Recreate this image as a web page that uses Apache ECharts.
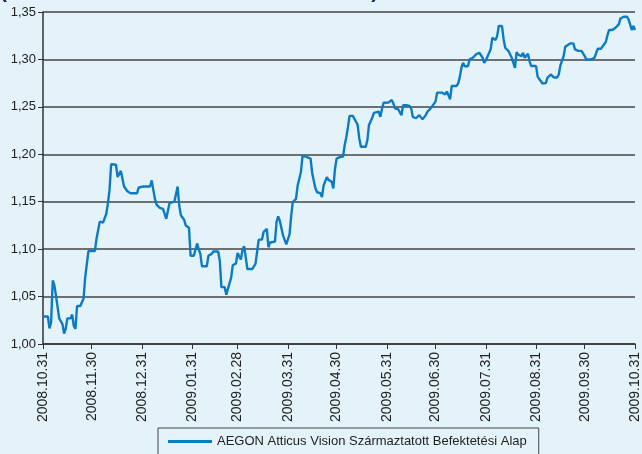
<!DOCTYPE html>
<html>
<head>
<meta charset="utf-8">
<script src="https://cdn.jsdelivr.net/npm/echarts@6/dist/echarts.min.js"></script>
<style>
html,body{margin:0;padding:0;background:#E4F3FA;}
#c{width:642px;height:454px;}
</style>
</head>
<body>
<div id="c"></div>
<script>
const seriesName = 'AEGON Atticus Vision Származtatott Befektetési Alap';
const tickDates = ['2008-10-31','2008-11-30','2008-12-31','2009-01-31','2009-02-28','2009-03-31','2009-04-30','2009-05-31','2009-06-30','2009-07-31','2009-08-31','2009-09-30','2009-10-31'];
const yTicks = [1.00,1.05,1.10,1.15,1.20,1.25,1.30,1.35];
const dates = [
'2008-10-31','2008-11-03','2008-11-04','2008-11-05','2008-11-06','2008-11-07','2008-11-08','2008-11-09','2008-11-10','2008-11-12',
'2008-11-13','2008-11-14','2008-11-15','2008-11-17','2008-11-18','2008-11-19','2008-11-20','2008-11-21','2008-11-23','2008-11-25',
'2008-11-26','2008-11-27','2008-11-28','2008-12-02','2008-12-03','2008-12-05','2008-12-07','2008-12-09','2008-12-10','2008-12-11',
'2008-12-12','2008-12-13','2008-12-15','2008-12-16','2008-12-17','2008-12-18','2008-12-20','2008-12-21','2008-12-22','2008-12-24',
'2008-12-28','2008-12-29','2008-12-30','2009-01-01','2009-01-05','2009-01-06','2009-01-07','2009-01-08','2009-01-09','2009-01-11',
'2009-01-13','2009-01-15','2009-01-17','2009-01-20','2009-01-21','2009-01-22','2009-01-23','2009-01-24','2009-01-26','2009-01-27',
'2009-01-29','2009-01-30','2009-02-01','2009-02-03','2009-02-04','2009-02-05','2009-02-06','2009-02-09','2009-02-10','2009-02-12',
'2009-02-13','2009-02-16','2009-02-17','2009-02-18','2009-02-19','2009-02-20','2009-02-21','2009-02-22','2009-02-24','2009-02-25',
'2009-02-27','2009-02-28','2009-03-01','2009-03-02','2009-03-03','2009-03-04','2009-03-05','2009-03-06','2009-03-09','2009-03-11',
'2009-03-12','2009-03-13','2009-03-15','2009-03-16','2009-03-18','2009-03-19','2009-03-20','2009-03-23','2009-03-24','2009-03-25',
'2009-03-26','2009-03-28','2009-03-29','2009-03-30','2009-04-01','2009-04-02','2009-04-03','2009-04-05','2009-04-06','2009-04-08',
'2009-04-09','2009-04-11','2009-04-14','2009-04-15','2009-04-16','2009-04-17','2009-04-18','2009-04-19','2009-04-20','2009-04-21',
'2009-04-22','2009-04-24','2009-04-25','2009-04-27','2009-04-28','2009-04-29','2009-04-30','2009-05-02','2009-05-04','2009-05-05',
'2009-05-06','2009-05-07','2009-05-08','2009-05-10','2009-05-12','2009-05-13','2009-05-14','2009-05-15','2009-05-18','2009-05-19',
'2009-05-20','2009-05-22','2009-05-23','2009-05-24','2009-05-26','2009-05-27','2009-05-28','2009-05-29','2009-06-01','2009-06-03',
'2009-06-04','2009-06-05','2009-06-06','2009-06-07','2009-06-08','2009-06-09','2009-06-10','2009-06-12','2009-06-14','2009-06-15',
'2009-06-16','2009-06-18','2009-06-20','2009-06-21','2009-06-22','2009-06-24','2009-06-25','2009-06-27','2009-06-28','2009-06-30',
'2009-07-01','2009-07-04','2009-07-05','2009-07-06','2009-07-07','2009-07-09','2009-07-10','2009-07-11','2009-07-13','2009-07-14',
'2009-07-15','2009-07-16','2009-07-17','2009-07-18','2009-07-20','2009-07-21','2009-07-23','2009-07-25','2009-07-26','2009-07-27',
'2009-07-29','2009-07-30','2009-07-31','2009-08-01','2009-08-02','2009-08-03','2009-08-04','2009-08-05','2009-08-06','2009-08-07',
'2009-08-08','2009-08-10','2009-08-11','2009-08-12','2009-08-13','2009-08-14','2009-08-15','2009-08-16','2009-08-17','2009-08-18',
'2009-08-19','2009-08-20','2009-08-22','2009-08-23','2009-08-24','2009-08-25','2009-08-26','2009-08-27','2009-08-28','2009-08-31',
'2009-09-01','2009-09-03','2009-09-04','2009-09-06','2009-09-07','2009-09-09','2009-09-10','2009-09-11','2009-09-13','2009-09-14',
'2009-09-15','2009-09-17','2009-09-18','2009-09-19','2009-09-21','2009-09-23','2009-09-24','2009-09-26','2009-09-28','2009-09-30',
'2009-10-01','2009-10-02','2009-10-04','2009-10-05','2009-10-06','2009-10-08','2009-10-10','2009-10-11','2009-10-13','2009-10-14',
'2009-10-15','2009-10-17','2009-10-19','2009-10-21','2009-10-22','2009-10-24','2009-10-26','2009-10-27','2009-10-28','2009-10-29',
'2009-10-30','2009-10-31'
];
const values = [
1.029,1.029,1.0165,1.023,1.067,1.062,1.051,1.050,1.027,1.021,
1.011,1.016,1.027,1.027,1.031,1.019,1.016,1.040,1.040,1.048,
1.070,1.072,1.098,1.098,1.111,1.129,1.128,1.137,1.148,1.162,
1.1895,1.189,1.189,1.176,1.176,1.1825,1.166,1.1645,1.161,1.159,
1.159,1.165,1.163,1.166,1.166,1.1725,1.171,1.153,1.147,1.1435,
1.1425,1.132,1.1485,1.150,1.152,1.166,1.146,1.1357,1.131,1.125,
1.1226,1.093,1.093,1.106,1.100,1.095,1.082,1.082,1.093,1.095,
1.0975,1.0975,1.088,1.060,1.058,1.060,1.052,1.052,1.070,1.083,
1.085,1.096,1.097,1.089,1.0995,1.103,1.0915,1.079,1.079,1.0845,
1.097,1.110,1.110,1.118,1.1215,1.102,1.107,1.108,1.1285,1.1345,
1.130,1.1145,1.113,1.105,1.1155,1.1345,1.1497,1.153,1.167,1.181,
1.198,1.1975,1.1955,1.1797,1.180,1.164,1.160,1.161,1.159,1.155,
1.167,1.176,1.173,1.171,1.164,1.184,1.1955,1.197,1.1975,1.2096,
1.218,1.2283,1.2405,1.2405,1.2343,1.231,1.2167,1.208,1.208,1.215,
1.231,1.2385,1.2437,1.2455,1.245,1.2395,1.2477,1.2543,1.2545,1.2572,
1.2537,1.2484,1.248,1.2475,1.249,1.2411,1.2517,1.2517,1.251,1.2484,
1.2395,1.238,1.2413,1.240,1.2368,1.2413,1.2448,1.2484,1.2502,1.2555,
1.265,1.265,1.2643,1.2632,1.2661,1.258,1.272,1.272,1.272,1.2748,
1.2816,1.2915,1.2964,1.2928,1.2928,1.300,1.3018,1.3053,1.3053,1.307,
1.302,1.2964,1.2992,1.3028,1.3028,1.3106,1.3228,1.324,1.3204,1.3246,
1.3352,1.3352,1.3211,1.3123,1.3134,1.3088,1.307,1.3017,1.3035,1.2911,
1.3077,1.305,1.3035,1.307,1.3017,1.3035,1.306,1.298,1.293,1.293,
1.2816,1.277,1.2746,1.275,1.2806,1.2841,1.2858,1.281,1.281,1.2841,
1.2937,1.3035,1.3133,1.3148,1.3169,1.3169,1.3106,1.309,1.309,1.3035,
1.300,1.2982,1.300,1.300,1.3018,1.3112,1.3112,1.3123,1.3183,1.3254,
1.331,1.331,1.3334,1.337,1.343,1.345,1.345,1.3423,1.337,1.331,
1.3352,1.331
];

function toLocal(s){const p=s.split('-').map(Number);return new Date(p[0],p[1]-1,p[2]).getTime();}
const tickTimes = tickDates.map(toLocal);
const data = dates.map((d,i)=>[toLocal(d), values[i]]);

const chart = echarts.init(document.getElementById('c'), null, {renderer:'canvas'});
const axisFont = 'Liberation Sans, Arial, sans-serif';
chart.setOption({
  backgroundColor:'#E4F3FA',
  animation:false,
  graphic:[{
    type:'text', left:0, top:-18,
    style:{text:'(2008. október 31. – 2009. október 31.)', font:'bold 21px Liberation Sans, Arial, sans-serif', fill:'#1B2B63'}
  }],
  grid:{left:43, right:1, top:12, bottom:110, containLabel:false},
  xAxis:{
    type:'value',
    min:tickTimes[0], max:tickTimes[tickTimes.length-1],
    axisLine:{show:true, lineStyle:{color:'#333', width:1.5}},
    axisTick:{show:true, customValues:tickTimes, length:5, lineStyle:{color:'#333', width:1}},
    axisLabel:{
      customValues:tickTimes, rotate:90, margin:8, color:'#222', fontSize:14, fontFamily:axisFont,
      formatter:function(v){const d=new Date(v);const pad=n=>(n<10?'0':'')+n;return d.getFullYear()+'.'+pad(d.getMonth()+1)+'.'+pad(d.getDate());}
    },
    splitLine:{show:false}
  },
  yAxis:{
    type:'value', min:yTicks[0], max:yTicks[yTicks.length-1], interval:0.05,
    axisLine:{show:true, lineStyle:{color:'#333', width:1.5}},
    axisTick:{show:true, length:5, lineStyle:{color:'#333'}},
    axisLabel:{color:'#222', fontSize:13, fontFamily:axisFont, margin:7,
      formatter:function(v){return v.toFixed(2).replace('.',',');}},
    splitLine:{show:true, lineStyle:{color:'#444', width:1.5}}
  },
  legend:{
    show:true, left:158, top:428, orient:'horizontal',
    data:[{name:seriesName, icon:'rect'}],
    itemWidth:44, itemHeight:3, itemGap:6,
    padding:[7,12,12,10],
    borderColor:'#444', borderWidth:1, backgroundColor:'#E4F3FA',
    textStyle:{color:'#222', fontSize:13, fontFamily:axisFont}
  },
  series:[{
    name:seriesName, type:'line', data:data, showSymbol:false, symbol:'none',
    lineStyle:{color:'#0B7CC4', width:2.4}, itemStyle:{color:'#0B7CC4'}
  }]
});
</script>
</body>
</html>
